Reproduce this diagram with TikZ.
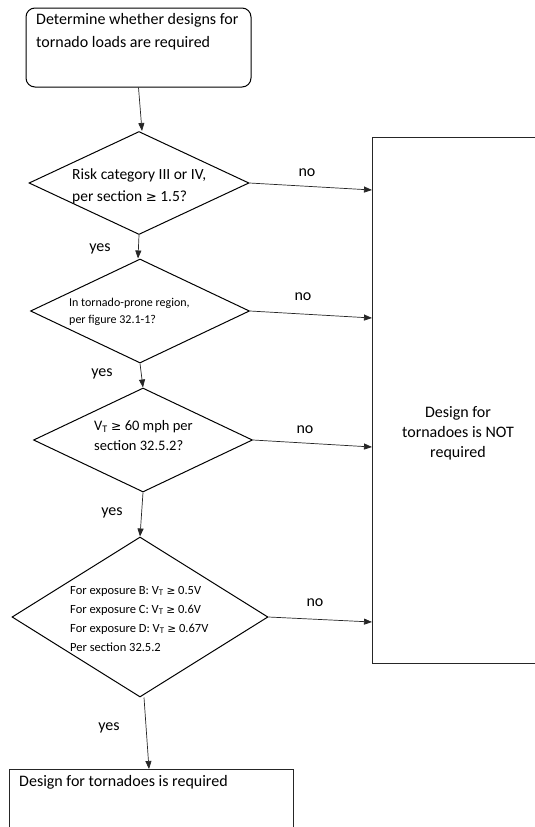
\documentclass[tikz,border=0pt]{standalone}
\usepackage{fontspec}
\setmainfont{Carlito}
\newfontfamily\gefont{DejaVu Sans}[Scale=0.85]
\newcommand{\gesym}{{\gefont ≥}}
\usetikzlibrary{shapes.geometric,arrows.meta,calc}
\tikzset{
  shp/.style={draw=black, line width=1pt},
  dia/.style={shp, shape=diamond, inner sep=0pt},
  boxnode/.style={draw=black!85, line width=1.3pt, rectangle, inner sep=0pt},
  arr/.style={draw=black!85, line width=0.7pt, -{Triangle[length=8pt,width=6pt]}},
  txt/.style={inner sep=0pt, align=left, text=black},
  lbl/.style={inner sep=0pt, font=\fontsize{16}{19}\selectfont}
}
\begin{document}
\begin{tikzpicture}[x=1pt,y=-1pt]
\useasboundingbox (0,0) rectangle (535,827);
\clip (0,0) rectangle (535,827);
\fill[white] (0,0) rectangle (535,827);

% start box
\node[shp, rectangle, rounded corners=9pt, minimum width=225pt, minimum height=79pt, inner sep=0pt] (start) at (138.5,47.5) {};
\node[txt, anchor=west, font=\fontsize{16}{23}\selectfont] (starttext) at (36,31.5) {Determine whether designs for\\tornado loads are required};

% diamonds
\node[dia, minimum width=220pt, minimum height=103pt] (d1) at (139,183) {};
\node[txt, anchor=west, font=\fontsize{15.5}{22}\selectfont] (d1text) at (72,186.5) {Risk category III or IV,\\per section \gesym{} 1.5?};

\node[dia, minimum width=219pt, minimum height=104pt] (d2) at (140,311) {};
\node[txt, anchor=west, font=\fontsize{12}{17}\selectfont] (d2text) at (69,312) {In tornado-prone region,\\per figure 32.1-1?};

\node[dia, minimum width=219pt, minimum height=104pt] (d3) at (143,440) {};
\node[txt, anchor=west, font=\fontsize{14.5}{20}\selectfont] (d3text) at (94,435.5) {V\textsubscript{T} \gesym{} 60 mph per\\section 32.5.2?};

\node[dia, minimum width=256pt, minimum height=160pt] (d4) at (140,617) {};
\node[txt, anchor=west, font=\fontsize{12.5}{19}\selectfont] (d4text) at (70,618.5) {For exposure B: V\textsubscript{T} \gesym{} 0.5V\\For exposure C: V\textsubscript{T} \gesym{} 0.6V\\For exposure D: V\textsubscript{T} \gesym{} 0.67V\\Per section 32.5.2};

% result boxes
\node[boxnode, anchor=north west, minimum width=180pt, minimum height=526pt] (notreq) at (372,137) {};
\node[txt, align=center, font=\fontsize{16}{20}\selectfont] (notreqtext) at (458,433) {Design for\\tornadoes is NOT\\required};

\node[boxnode, anchor=north west, minimum width=284pt, minimum height=100pt] (req) at (9,769) {};
\node[txt, anchor=west, font=\fontsize{16}{19}\selectfont] (reqtext) at (19,782) {Design for tornadoes is required};

% yes connectors
\draw[arr] (start.south) -- ($(d1.north)+(3,0)$);
\draw[arr] (d1.south) -- ($(d2.north)+(-2,0)$);
\draw[arr] (d2.south) -- (d3.north);
\draw[arr] (d3.south) -- (d4.north);
\draw[arr] ($(d4.south)+(4,0)$) -- ($(req.north west)+(140,0)$);

% no connectors
\draw[arr] (d1.east) -- ($(notreq.north west)+(0,53)$);
\draw[arr] (d2.east) -- ($(notreq.north west)+(0,181)$);
\draw[arr] (d3.east) -- ($(notreq.north west)+(0,310)$);
\draw[arr] (d4.east) -- ($(notreq.north west)+(0,485)$);

% labels
\node[lbl] (no1) at (307,173) {no};
\node[lbl] (no2) at (303,297) {no};
\node[lbl] (no3) at (305,430) {no};
\node[lbl] (no4) at (315,603) {no};
\node[lbl] (yes1) at (100,249) {yes};
\node[lbl] (yes2) at (102,374) {yes};
\node[lbl] (yes3) at (112,513) {yes};
\node[lbl] (yes4) at (109,728) {yes};
\end{tikzpicture}
\end{document}
